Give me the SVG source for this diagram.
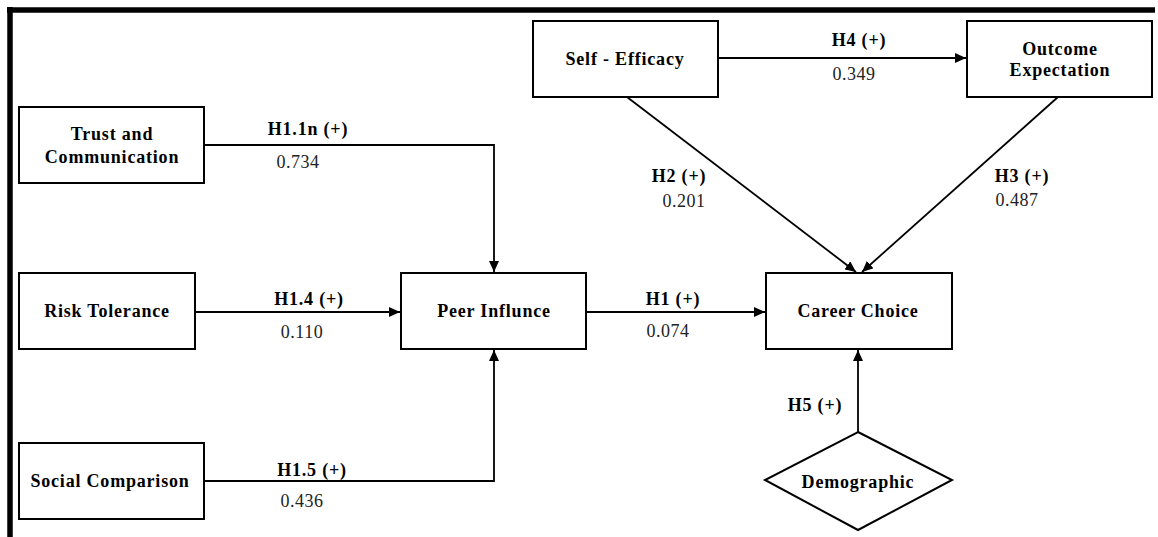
<svg xmlns="http://www.w3.org/2000/svg" width="1158" height="537" viewBox="0 0 1158 537">
<style>
.box{fill:#fff;stroke:#000;stroke-width:2}
.lbl{font-family:"Liberation Serif","Times New Roman",serif;font-weight:bold;font-size:18px;letter-spacing:0.8px;fill:#000;text-anchor:middle}
.num{font-family:"Liberation Serif","Times New Roman",serif;font-size:18px;letter-spacing:0.5px;fill:#222;text-anchor:middle}
.edge{fill:none;stroke:#000;stroke-width:1.8}
</style>
<defs>
<marker id="arr" markerUnits="userSpaceOnUse" markerWidth="12" markerHeight="10" refX="11" refY="5" orient="auto">
<path d="M0,0 L11,5 L0,10 Z" fill="#000"/>
</marker>
</defs>
<rect width="1158" height="537" fill="#fff"/>
<g id="frame">
<line x1="7" y1="10" x2="1155" y2="10" stroke="#000" stroke-width="5.5"/>
<line x1="10" y1="7" x2="10" y2="537" stroke="#000" stroke-width="5.5"/>
</g>
<g id="connectors">
<polyline class="edge" points="204,145 494,145 494,272" marker-end="url(#arr)"/>
<line class="edge" x1="195" y1="312" x2="400" y2="312" marker-end="url(#arr)"/>
<polyline class="edge" points="204,481 494,481 494,350" marker-end="url(#arr)"/>
<line class="edge" x1="586" y1="312" x2="765" y2="312" marker-end="url(#arr)"/>
<line class="edge" x1="718" y1="58" x2="966" y2="58" marker-end="url(#arr)"/>
<line class="edge" x1="627" y1="97" x2="856" y2="272" marker-end="url(#arr)"/>
<line class="edge" x1="1058" y1="97" x2="862" y2="272" marker-end="url(#arr)"/>
<line class="edge" x1="858" y1="432" x2="858" y2="350" marker-end="url(#arr)"/>
<text class="lbl" x="308" y="135">H1.1n (+)</text>
<text class="num" x="298" y="168">0.734</text>
<text class="lbl" x="309" y="305">H1.4 (+)</text>
<text class="num" x="302" y="338">0.110</text>
<text class="lbl" x="312" y="476">H1.5 (+)</text>
<text class="num" x="302" y="507">0.436</text>
<text class="lbl" x="673" y="305">H1 (+)</text>
<text class="num" x="668" y="337">0.074</text>
<text class="lbl" x="859" y="46">H4 (+)</text>
<text class="num" x="854" y="80">0.349</text>
<text class="lbl" x="679" y="182">H2 (+)</text>
<text class="num" x="684" y="207">0.201</text>
<text class="lbl" x="1022" y="182">H3 (+)</text>
<text class="num" x="1017" y="206">0.487</text>
<text class="lbl" x="815" y="411">H5 (+)</text>
</g>
<g id="trust">
<rect class="box" x="19" y="107" width="185" height="76"/>
<text class="lbl" x="112" y="140">Trust and</text>
<text class="lbl" x="112" y="163">Communication</text>
</g>
<g id="risk">
<rect class="box" x="19" y="273" width="176" height="76"/>
<text class="lbl" x="107" y="317">Risk Tolerance</text>
</g>
<g id="social">
<rect class="box" x="19" y="443" width="185" height="76"/>
<text class="lbl" x="110" y="487">Social Comparison</text>
</g>
<g id="peer">
<rect class="box" x="401" y="273" width="185" height="76"/>
<text class="lbl" x="494" y="317">Peer Influnce</text>
</g>
<g id="self">
<rect class="box" x="533" y="21" width="185" height="76"/>
<text class="lbl" x="625" y="65">Self - Efficacy</text>
</g>
<g id="outcome">
<rect class="box" x="967" y="21" width="185" height="76"/>
<text class="lbl" x="1060" y="55">Outcome</text>
<text class="lbl" x="1060" y="76">Expectation</text>
</g>
<g id="career">
<rect class="box" x="766" y="273" width="186" height="76"/>
<text class="lbl" x="858" y="317">Career Choice</text>
</g>
<g id="demographic">
<polygon class="box" points="858,432 952,480 858,530 765,480"/>
<text class="lbl" x="858" y="488">Demographic</text>
</g>
</svg>
